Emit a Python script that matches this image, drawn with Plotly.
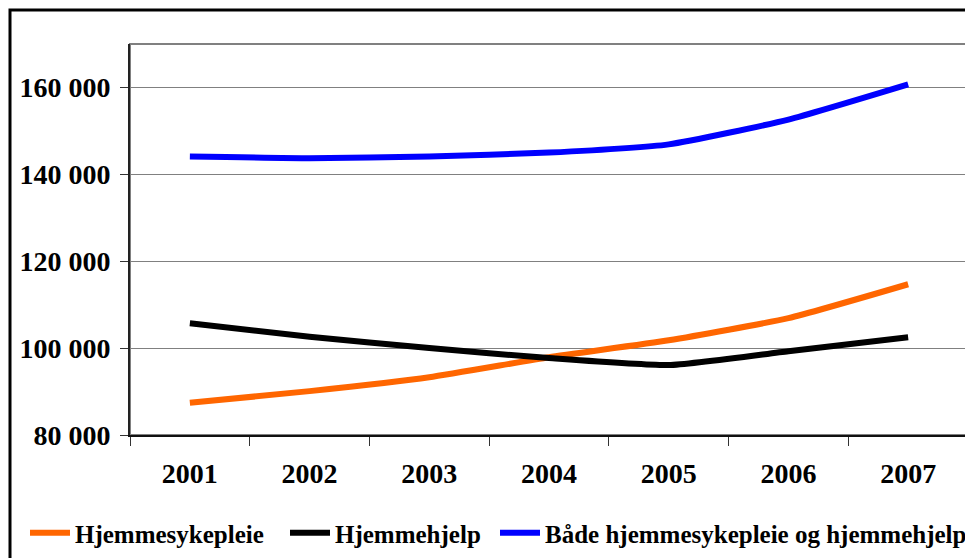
import plotly.graph_objects as go

years = ["2001", "2002", "2003", "2004", "2005", "2006", "2007"]
hjemmesykepleie = [87400, 90100, 93300, 97900, 101800, 106900, 114700]
hjemmehjelp = [105700, 102600, 100000, 97700, 96100, 99300, 102500]
begge = [144100, 143700, 144100, 145000, 146900, 152600, 160700]
series_names = ["Hjemmesykepleie", "Hjemmehjelp", "Både hjemmesykepleie og hjemmehjelp"]
colors = ["#FF6600", "#000000", "#0000FF"]
y_ticks = [80000, 100000, 120000, 140000, 160000]
y_tick_labels = ["80 000", "100 000", "120 000", "140 000", "160 000"]

OFF = 8  # page body margin
W, H = 973 - OFF, 558 - OFF
# target page pixel positions of the plot area
L, R, T, B = 130, 968, 44, 435

def px(x):
    return (x - L) / (R - L)

def py(y):
    return (B - y) / (B - T)

FONT = "Liberation Serif"
legend_ids = ["legend", "legend2", "legend3"]
legend_text_x = [75, 335, 545]

fig = go.Figure()
for name, vals, c, lg in zip(series_names, [hjemmesykepleie, hjemmehjelp, begge], colors, legend_ids):
    fig.add_trace(go.Scatter(
        x=years, y=vals, name=name, mode="lines", legend=lg,
        line=dict(color=c, width=6, shape="spline", smoothing=0.5),
    ))

def legend_cfg(text_x):
    return dict(
        orientation="h", x=px(text_x - 50), xanchor="left", y=py(533), yanchor="middle",
        font=dict(family=FONT, size=25, color="black", weight="bold"),
        bgcolor="rgba(0,0,0,0)", itemwidth=40,
    )

fig.update_layout(
    width=W, height=H,
    margin=dict(l=L - OFF, r=(W + OFF) - R, t=T - OFF, b=(H + OFF) - B, autoexpand=False),
    paper_bgcolor="white", plot_bgcolor="white",
    font=dict(family=FONT, color="black"),
    showlegend=True,
    legend=legend_cfg(legend_text_x[0]),
    legend2=legend_cfg(legend_text_x[1]),
    legend3=legend_cfg(legend_text_x[2]),
    xaxis=dict(
        type="category", range=[-0.5, 6.5],
        showline=True, linecolor="#111111", linewidth=2,
        ticks="outside", tickson="boundaries", ticklen=9, tickcolor="#333333", tickwidth=1,
        showgrid=False, zeroline=False, ticklabelstandoff=12,
        tickfont=dict(family=FONT, size=28, color="black", weight="bold"),
    ),
    yaxis=dict(
        range=[80000, 170000],
        tickvals=y_ticks, ticktext=y_tick_labels,
        showline=True, linecolor="#222222", linewidth=2,
        ticks="outside", ticklen=8, tickcolor="#333333", tickwidth=1,
        showgrid=True, gridcolor="#808080", gridwidth=1,
        zeroline=False, ticklabelstandoff=4,
        tickfont=dict(family=FONT, size=28, color="black", weight="bold"),
    ),
    shapes=[
        dict(type="rect", xref="paper", yref="paper", x0=0, x1=1, y0=0, y1=1,
             line=dict(color="#808080", width=2), layer="below"),
        dict(type="rect", xref="paper", yref="paper",
             x0=px(10), x1=px(971), y0=py(10), y1=py(575),
             line=dict(color="black", width=3), layer="above"),
    ],
)

fig.write_html("out.html")
